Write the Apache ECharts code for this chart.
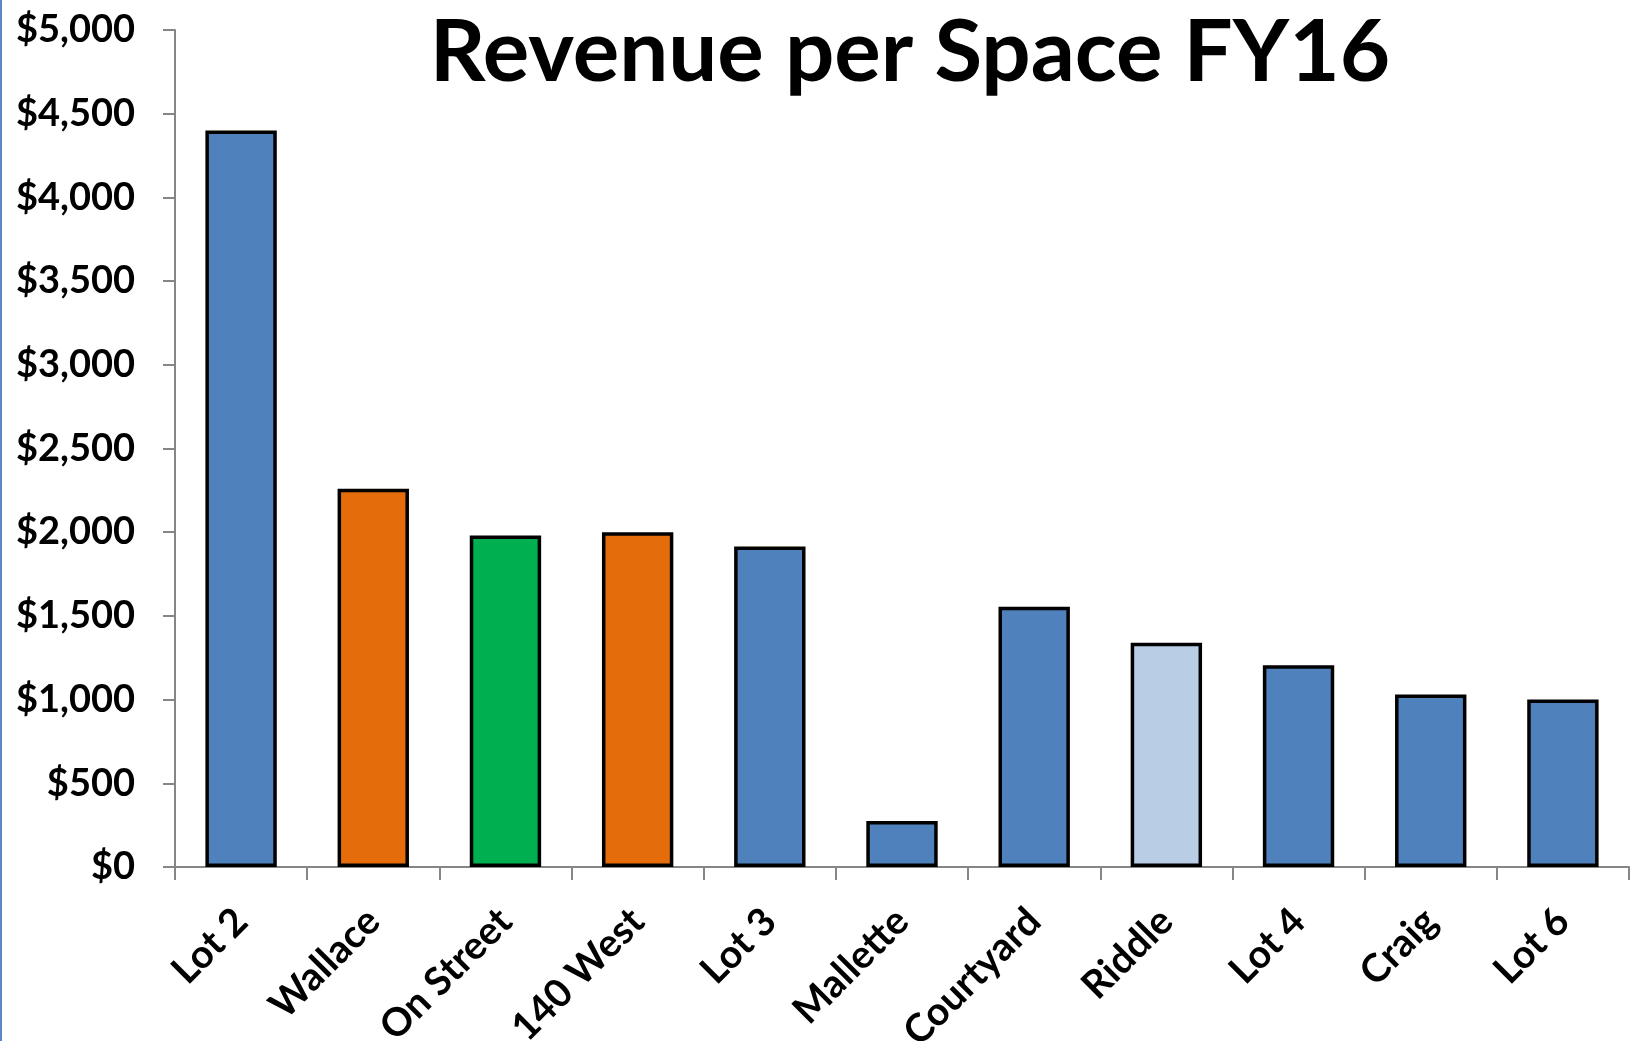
<!DOCTYPE html>
<html>
<head>
<meta charset="utf-8">
<title>Revenue per Space FY16</title>
<script src="https://cdn.jsdelivr.net/npm/echarts@6/dist/echarts.min.js"></script>
<style>
  html, body { margin: 0; padding: 0; background: #fff; }
  #chart { width: 1632px; height: 1041px; }
  .edge { position: absolute; left: 0; top: 0; width: 2px; height: 1041px; background: #5b87c9; }
</style>
</head>
<body>
<div id="chart"></div>
<div class="edge"></div>
<script>
// lots / garages, left to right
const categories = ['Lot 2', 'Wallace', 'On Street', '140 West', 'Lot 3', 'Mallette',
  'Courtyard', 'Riddle', 'Lot 4', 'Craig', 'Lot 6']
// revenue per space, dollars
const revenue = [4400, 2260, 1980, 2000, 1915, 275, 1555, 1340, 1205, 1030, 1000]
const yTicks = [0, 500, 1000, 1500, 2000, 2500, 3000, 3500, 4000, 4500, 5000]

const barColors = ['#4F81BD', '#E46C0A', '#00B050', '#E46C0A', '#4F81BD', '#4F81BD',
  '#4F81BD', '#B9CDE5', '#4F81BD', '#4F81BD', '#4F81BD']

const FONT = 'Lato'
const axisGray = '#868686'

const chart = echarts.init(document.getElementById('chart'))

const option = {
  backgroundColor: '#fff',
  animation: false,
  title: {
    text: 'Revenue per Space FY16',
    left: 905,
    top: 4,
    textAlign: 'center',
    textStyle: {
      fontFamily: FONT,
      fontWeight: 'bold',
      fontSize: 87,
      color: '#000'
    }
  },
  grid: {
    left: 175,
    right: 3,
    top: 30,
    bottom: 174,
    containLabel: false,
    outerBoundsMode: 'none'
  },
  xAxis: {
    type: 'category',
    data: categories,
    axisLine: { lineStyle: { color: axisGray, width: 2 } },
    axisTick: { show: true, length: 13, interval: 0, lineStyle: { color: axisGray, width: 2 } },
    axisLabel: {
      interval: 0,
      rotate: 45,
      margin: 48,
      fontFamily: FONT,
      fontWeight: 'bold',
      fontSize: 39,
      color: '#000'
    }
  },
  yAxis: {
    type: 'value',
    min: yTicks[0],
    max: yTicks[yTicks.length - 1],
    interval: 500,
    axisLine: { show: true, lineStyle: { color: axisGray, width: 2 } },
    axisTick: { show: true, length: 12, lineStyle: { color: axisGray, width: 2 } },
    splitLine: { show: false },
    axisLabel: {
      margin: 40,
      fontFamily: FONT,
      fontWeight: 'bold',
      fontSize: 38,
      color: '#000',
      formatter: v => '$' + v.toLocaleString('en-US')
    }
  },
  series: [
    {
      type: 'bar',
      barWidth: '54%',
      data: revenue.map((v, i) => ({
        value: v,
        itemStyle: { color: barColors[i] }
      })),
      itemStyle: {
        borderColor: '#000',
        borderWidth: 3.5
      }
    }
  ]
}

chart.setOption(option)
</script>
</body>
</html>
